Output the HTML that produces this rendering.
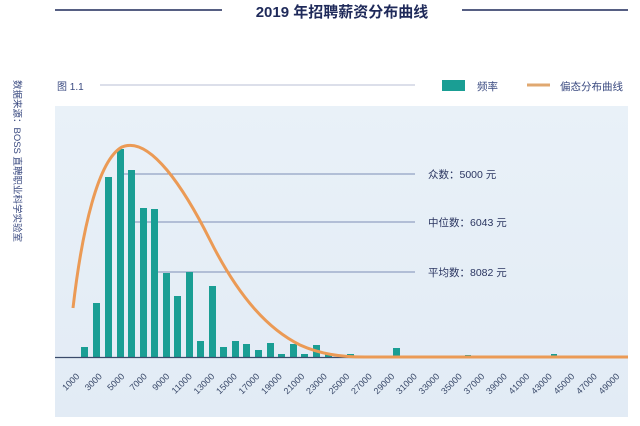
<!DOCTYPE html>
<html><head><meta charset="utf-8"><style>
body{margin:0;background:#fff;width:640px;height:426px;overflow:hidden}
svg{display:block;font-family:"Liberation Sans","Noto Sans CJK SC",sans-serif}
</style></head><body>
<svg width="640" height="426" viewBox="0 0 640 426">
<defs><linearGradient id="g" x1="0" y1="0" x2="0" y2="1"><stop offset="0" stop-color="#e9f1f8"/><stop offset="1" stop-color="#e2ebf5"/></linearGradient></defs>
<line x1="55" y1="10" x2="222" y2="10" stroke="#1f2a5a" stroke-width="1.5"/>
<line x1="462" y1="10" x2="628" y2="10" stroke="#1f2a5a" stroke-width="1.5"/>
<text x="342" y="17" text-anchor="middle" font-size="15" font-weight="bold" fill="#1f2a5a">2019 年招聘薪资分布曲线</text>
<text x="0" y="0" transform="translate(14,80) rotate(90)" font-size="9.5" fill="#3a4a80">数据来源：BOSS 直聘职业科学实验室</text>
<text x="57" y="90" font-size="10" fill="#3a4a80">图 1.1</text>
<line x1="100" y1="85" x2="415" y2="85" stroke="#b8bfd6" stroke-width="1"/>
<rect x="442" y="80" width="23" height="11" fill="#1a9e94"/>
<text x="477" y="90" font-size="10.5" fill="#3a4a80">频率</text>
<line x1="527" y1="85" x2="550" y2="85" stroke="#e0a870" stroke-width="3"/>
<text x="560" y="90" font-size="10.5" fill="#3a4a80">偏态分布曲线</text>
<rect x="55" y="106" width="573" height="311" fill="url(#g)"/>
<g stroke="#5a6ea0" stroke-width="0.8">
<line x1="120" y1="174" x2="415" y2="174"/>
<line x1="132" y1="222" x2="415" y2="222"/>
<line x1="155" y1="272" x2="415" y2="272"/>
</g>
<g font-size="10.5" fill="#2a3560">
<text x="428" y="178">众数：5000 元</text>
<text x="428" y="226">中位数：6043 元</text>
<text x="428" y="276">平均数：8082 元</text>
</g>
<g fill="#1a9e94">
<rect x="81" y="347" width="7" height="10"/>
<rect x="93" y="303" width="7" height="54"/>
<rect x="105" y="177" width="7" height="180"/>
<rect x="117" y="149" width="7" height="208"/>
<rect x="128" y="170" width="7" height="187"/>
<rect x="140" y="208" width="7" height="149"/>
<rect x="151" y="209" width="7" height="148"/>
<rect x="163" y="273" width="7" height="84"/>
<rect x="174" y="296" width="7" height="61"/>
<rect x="186" y="272" width="7" height="85"/>
<rect x="197" y="341" width="7" height="16"/>
<rect x="209" y="286" width="7" height="71"/>
<rect x="220" y="347" width="7" height="10"/>
<rect x="232" y="341" width="7" height="16"/>
<rect x="243" y="344" width="7" height="13"/>
<rect x="255" y="350" width="7" height="7"/>
<rect x="267" y="343" width="7" height="14"/>
<rect x="278" y="354" width="7" height="3"/>
<rect x="290" y="344" width="7" height="13"/>
<rect x="301" y="354" width="7" height="3"/>
<rect x="313" y="345" width="7" height="12"/>
<rect x="325" y="353" width="7" height="4"/>
<rect x="347" y="354" width="7" height="3"/>
<rect x="393" y="348" width="7" height="9"/>
<rect x="465" y="355" width="6" height="2"/>
<rect x="551" y="354" width="6" height="3"/>
</g>
<line x1="55" y1="357.5" x2="628" y2="357.5" stroke="#3a4a6a" stroke-width="1.2"/>
<path d="M73,308 C82,230 98,160 122,147 C150,135 185,190 210,240 C240,300 270,330 300,345 C320,354 340,357 365,357 L628,357" fill="none" stroke="#eb9a55" stroke-width="3"/>
<g font-size="9" fill="#3a4a6a">
<text text-anchor="end" transform="translate(80,377) rotate(-45)">1000</text>
<text text-anchor="end" transform="translate(102.5,377) rotate(-45)">3000</text>
<text text-anchor="end" transform="translate(125,377) rotate(-45)">5000</text>
<text text-anchor="end" transform="translate(147.5,377) rotate(-45)">7000</text>
<text text-anchor="end" transform="translate(170,377) rotate(-45)">9000</text>
<text text-anchor="end" transform="translate(192.5,377) rotate(-45)">11000</text>
<text text-anchor="end" transform="translate(215,377) rotate(-45)">13000</text>
<text text-anchor="end" transform="translate(237.5,377) rotate(-45)">15000</text>
<text text-anchor="end" transform="translate(260,377) rotate(-45)">17000</text>
<text text-anchor="end" transform="translate(282.5,377) rotate(-45)">19000</text>
<text text-anchor="end" transform="translate(305,377) rotate(-45)">21000</text>
<text text-anchor="end" transform="translate(327.5,377) rotate(-45)">23000</text>
<text text-anchor="end" transform="translate(350,377) rotate(-45)">25000</text>
<text text-anchor="end" transform="translate(372.5,377) rotate(-45)">27000</text>
<text text-anchor="end" transform="translate(395,377) rotate(-45)">29000</text>
<text text-anchor="end" transform="translate(417.5,377) rotate(-45)">31000</text>
<text text-anchor="end" transform="translate(440,377) rotate(-45)">33000</text>
<text text-anchor="end" transform="translate(462.5,377) rotate(-45)">35000</text>
<text text-anchor="end" transform="translate(485,377) rotate(-45)">37000</text>
<text text-anchor="end" transform="translate(507.5,377) rotate(-45)">39000</text>
<text text-anchor="end" transform="translate(530,377) rotate(-45)">41000</text>
<text text-anchor="end" transform="translate(552.5,377) rotate(-45)">43000</text>
<text text-anchor="end" transform="translate(575,377) rotate(-45)">45000</text>
<text text-anchor="end" transform="translate(597.5,377) rotate(-45)">47000</text>
<text text-anchor="end" transform="translate(620,377) rotate(-45)">49000</text>
</g>
</svg>
</body></html>
